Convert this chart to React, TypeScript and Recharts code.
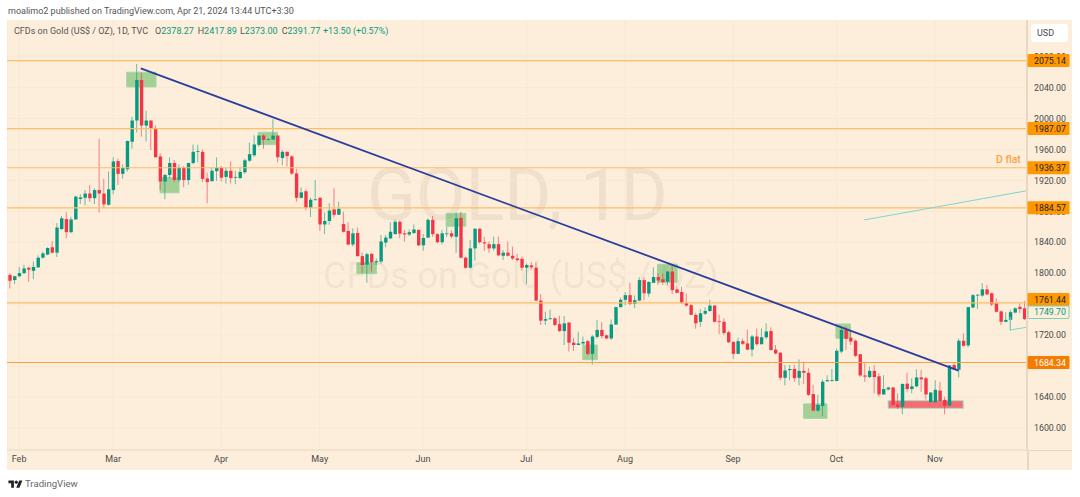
import React from 'react';
import { ComposedChart, Bar, Cell, XAxis, YAxis, CartesianGrid, ReferenceLine, ReferenceArea } from 'recharts';

const opens = [
  1797.5,1791,1796,1800,1807,1803,1807.5,1820,1824,1833.5,
  1826.5,1857,1870,1853,1869.5,1896,1897.5,1903,1897,1907.5,
  1903,1888.5,1907.5,1945,1928.5,1934.5,1970,1997.5,2050,1991,
  1997.5,1987.5,1951,1918.5,1927,1942.5,1920.5,1936.5,1920.5,1942.5,
  1957,1957,1922.5,1919,1932,1936.5,1924.5,1932.5,1923.5,1923,
  1930.5,1945.5,1952.5,1966,1978,1972.5,1973,1978,1949,1957,
  1951,1929,1897.5,1906,1884.5,1894.5,1897.5,1863,1867.5,1882.5,
  1875.5,1863.5,1854.5,1837,1852,1822,1811,1825,1814,1815,
  1839.5,1845,1850.5,1866.5,1851.5,1850,1852,1856,1836,1846,
  1869,1850.5,1840,1850.5,1851.5,1847,1871.5,1820,1807,1832,
  1857.5,1840,1837.5,1832,1837.5,1822.5,1826.5,1822.5,1819,1818.5,
  1807,1810,1807,1764.5,1738.5,1740.5,1741.5,1734,1725,1736,
  1710,1707,1709,1712,1695.5,1717.5,1726.5,1719.5,1715.5,1733.5,
  1756,1765.5,1771.5,1760,1764.5,1791,1773.5,1787.5,1795,1792,
  1789,1802,1779,1775.5,1761.5,1758.5,1746,1737,1747.5,1751,
  1758,1738,1737,1723.5,1711,1695.5,1712,1709,1701,1718,
  1708,1717,1725,1701,1697,1664.5,1674.5,1676,1664.5,1673.5,
  1671,1643.5,1622,1628,1660,1660.5,1660.5,1698.5,1726.5,1716.5,
  1712.5,1695,1667.5,1665.5,1673.5,1666.5,1643,1649.5,1652,1630,
  1627,1657,1650,1653.5,1665,1664,1633,1633,1648,1636,
  1628.5,1681,1675,1712.5,1706.5,1755.5,1771,1771,1779,1774,
  1761,1750.5,1737,1739.5,1749,1756.5,1754.5,
];
const closes = [
  1790,1796,1800,1806,1804.5,1808,1820,1825.5,1832.5,1826.5,
  1859,1871,1853,1869.5,1899,1898,1903,1897,1907.5,1903,
  1889,1908.5,1944.5,1928.5,1936,1971,1997.5,2050,1991,1997.5,
  1987.5,1950,1918.5,1927,1942.5,1920.5,1936.5,1920.5,1942.5,1957,
  1958,1922,1918,1932.5,1936.5,1923.5,1932.5,1923,1924.5,1931,
  1946,1954,1966.5,1978,1972.5,1973.5,1978,1950,1957,1951.5,
  1929,1897.5,1904.5,1884.5,1895,1895.5,1863,1867.5,1881,1875.5,
  1883.5,1853.5,1837,1851.5,1822,1810.5,1824.5,1814,1815.5,1841,
  1846,1853.5,1866.5,1851,1850,1853,1856.5,1836,1845.5,1869,
  1850.5,1840,1851.5,1851.5,1847.5,1871,1820,1807,1832,1857.5,
  1840,1838.5,1832,1837.5,1823,1826.5,1822.5,1819,1817,1807,
  1810.5,1807.5,1764.5,1738.5,1740.5,1741.5,1733,1725,1735,1710,
  1707,1709,1711,1695.5,1718,1726.5,1718.5,1715.5,1733.5,1756,
  1765.5,1771.5,1760,1765,1791,1774,1788.5,1795,1790.5,1788.5,
  1802,1778,1774.5,1761.5,1758,1746,1735,1748,1751,1758,
  1737,1737,1722.5,1710.5,1695.5,1712,1708.5,1701,1718,1708,
  1717,1724.5,1700.5,1696,1664.5,1674,1676,1664,1673.5,1671,
  1642.5,1622,1629.5,1659.5,1661.5,1661.5,1699.5,1726.5,1715,1711.5,
  1693,1667.5,1666,1673.5,1665.5,1643,1650,1652,1629.5,1627,
  1656.5,1650,1653.5,1665,1662.5,1643,1645.5,1649,1634.5,1628.5,
  1680.5,1675.5,1712.5,1706,1756,1771.5,1772,1779,1772.5,1759.5,
  1750,1737,1739.5,1749.5,1754.5,1753.5,1740.5,
];
const highs = [
  1800,1796.5,1808,1811,1808,1815,1823,1828,1833.5,1841.5,
  1865,1874,1879,1873,1900.5,1902,1907.5,1914,1910,1974,
  1922,1931.5,1950,1948.5,1940.5,1971.5,2002.5,2070.5,2059.5,2010,
  1998,1991,1955,1929,1949.5,1946.5,1941,1938.5,1943,1966.5,
  1966,1960,1930,1937.5,1949.5,1938.5,1936.5,1944.5,1932.5,1937,
  1948,1969,1978.5,1978.5,1980,1974.5,1999,1979,1959.5,1957.5,
  1953,1935,1911,1908.5,1898,1920.5,1898,1878.5,1890.5,1910,
  1892.5,1879.5,1866,1858,1859,1826.5,1826.5,1825.5,1819,1849.5,
  1849.5,1866,1869.5,1868,1856,1856.5,1863,1856,1850.5,1871,
  1874,1851.5,1856,1860,1855.5,1878.5,1879,1821.5,1843,1858,
  1858,1847,1841,1847.5,1847,1830,1841,1834.5,1825,1821.5,
  1812.5,1814,1813.5,1773,1750,1752.5,1743,1745,1744.5,1736.5,
  1716.5,1724,1718,1713.5,1720,1739.5,1736.5,1721,1740,1756.5,
  1768,1775.5,1787.5,1771,1794.5,1794.5,1789.5,1807.5,1799.5,1799.5,
  1803,1811.5,1782.5,1782.5,1774,1760,1748,1753.5,1755.5,1765.5,
  1758.5,1746,1741.5,1725.5,1711.5,1716.5,1715,1727,1720,1728.5,
  1728.5,1735,1730,1707,1698,1681,1681,1681,1688.5,1685.5,
  1677,1655.5,1642.5,1662.5,1668,1676,1702,1731,1731,1726.5,
  1714.5,1695.5,1683.5,1679,1681,1670.5,1668,1653,1653,1644.5,
  1657.5,1671,1664,1675.5,1674.5,1666,1646,1661.5,1659.5,1640,
  1681,1683.5,1715.5,1722,1756.5,1773,1773,1787,1784.5,1775,
  1767.5,1751.5,1749.5,1752.5,1756,1761,1764,
];
const lows = [
  1780,1786,1795,1799,1789,1792,1806.5,1819,1823,1825.5,
  1821,1856,1845,1851.5,1869,1889.5,1887.5,1892.5,1889.5,1878,
  1884,1887.5,1902,1914,1922,1931.5,1961,1982,1976.5,1970.5,
  1959.5,1949.5,1907.5,1895.5,1922.5,1917.5,1918,1911,1914.5,1941,
  1943.5,1917.5,1890.5,1918.5,1919.5,1918.5,1916,1916,1915,1922,
  1928.5,1944,1950.5,1963.5,1961,1971.5,1972.5,1943.5,1939.5,1938,
  1927,1892.5,1896.5,1881.5,1872.5,1894,1855,1850.5,1862.5,1872,
  1875.5,1852.5,1836,1834.5,1821.5,1800,1787.5,1802,1810.5,1812,
  1833.5,1844,1850,1845,1841,1848,1850.5,1835,1829,1845,
  1847,1838.5,1837.5,1847,1845,1826.5,1819,1805.5,1806,1816,
  1838.5,1829,1826.5,1829,1822,1817,1821.5,1817,1815,1803,
  1785.5,1805,1764,1733,1733,1739.5,1731.5,1724,1707,1698.5,
  1699.5,1707,1707,1693.5,1681.5,1715.5,1715.5,1714.5,1713.5,1733,
  1755.5,1758.5,1758.5,1754.5,1763.5,1765,1769.5,1787,1784.5,1784.5,
  1784.5,1773,1774,1760,1756.5,1746,1728,1730.5,1746,1750,
  1736.5,1721,1720,1710,1689,1695.5,1707,1700.5,1692,1706.5,
  1707.5,1714.5,1699.5,1695,1661,1654.5,1661.5,1659.5,1654.5,1656.5,
  1641,1621,1621,1615,1659.5,1659.5,1660,1696,1700.5,1707,
  1691,1666,1659.5,1664,1644.5,1640,1642.5,1648,1628,1624,
  1617.5,1646.5,1644.5,1652,1646.5,1636.5,1632.5,1632,1633.5,1617.5,
  1628,1674.5,1665,1705,1704,1754.5,1753.5,1769.5,1771.5,1757.5,
  1749,1733,1736.5,1725.5,1748,1748,1739.5,
];

const priceTicks = [1600, 1640, 1680, 1720, 1760, 1800, 1840, 1880, 1920, 1960, 2000, 2040, 2080];
const levels = [2075.14, 1987.07, 1936.37, 1884.57, 1761.44, 1684.34];
const lastPrice = 1749.7;
const monthIndex = [2, 22, 45, 66, 88, 110, 131, 154, 176, 197];
const monthNames = ['Feb', 'Mar', 'Apr', 'May', 'Jun', 'Jul', 'Aug', 'Sep', 'Oct', 'Nov'];

// [from, to, top price, bottom price]
const greenBoxes = [
  [24.9, 31.15, 2060, 2041],
  [32, 36.05, 1923.5, 1904],
  [52.9, 57, 1982.3, 1966.3],
  [73.9, 78.1, 1813.6, 1799.3],
  [92.9, 97.1, 1877.4, 1860.6],
  [122, 125.1, 1707, 1688],
  [137.9, 142.1, 1811.4, 1788],
  [169, 174, 1630.7, 1612.1],
  [175.9, 179, 1734.2, 1715.7],
];
const redBox = [187, 203, 1635, 1625];
const trendLine = [[27.9, 2065], [202, 1673.8]];
const tealLine = [[181.9, 1868.8], [216.57, 1906.7]];
const tealHook = [[213, 1743.3], [213, 1726.4], [216.57, 1730]];

const candles = opens.map((open, i) => ({
  i,
  open,
  close: closes[i],
  wick: [lows[i], highs[i]],
  body: [Math.min(open, closes[i]), Math.max(open, closes[i])],
}));

const UP = '#089981';
const DOWN = '#f23645';
const BG = '#fdeedb';
const FONT = 'Roboto, sans-serif';
const BORDER = '#e8d8c0';
const xDomain = [-0.575, 216.575];

const candleColor = (d: { open: number; close: number }) => (d.close >= d.open ? UP : DOWN);

function PriceTick({ x, y, payload }: any) {
  const v = payload.value;
  const text = v.toFixed(2);
  if (v === lastPrice) {
    return (
      <g>
        <rect x={x + 1} y={y - 6} width={41} height={12.5} fill={BG} stroke="#7fcdbb" rx={1} />
        <text x={x + 7} y={y + 3.2} fontSize={8.8} fontFamily={FONT} fill={UP}>{text}</text>
      </g>
    );
  }
  if (levels.includes(v)) {
    const strong = v === 1684.34;
    // the 1761.44 tag sits a little higher so it clears the last price tag
    const top = v === 1761.44 ? y - 10 : y - 6.5;
    return (
      <g>
        <rect x={x + 0.5} y={top} width={42} height={13} fill={strong ? '#f57c00' : '#ff9800'} rx={1} />
        <text x={x + 7} y={top + 9.7} fontSize={8.8} fontFamily={FONT} fill={strong ? '#fff' : '#222'}>{text}</text>
      </g>
    );
  }
  return <text x={x + 7} y={y + 3.2} fontSize={8.8} fontFamily={FONT} fill="#4a4a4a">{text}</text>;
}

const abs = (left: number, top: number, extra: React.CSSProperties = {}): React.CSSProperties => ({
  position: 'absolute',
  left,
  top,
  whiteSpace: 'nowrap',
  fontFamily: FONT,
  ...extra,
});

const legendValues = [
  ['O', '2378.27', 155],
  ['H', '2417.89', 197.7],
  ['L', '2373.00', 240],
  ['C', '2391.77', 281.7],
];

export default function App() {
  return (
    <div style={{ position: 'fixed', left: 0, top: 0, width: 1080, height: 497, background: '#fff', overflow: 'hidden' }}>
      <div style={abs(8, 6, { fontSize: 9, color: '#555' })}>
        moalimo2 published on TradingView.com, Apr 21, 2024 13:44 UTC+3:30
      </div>

      <div style={{ position: 'absolute', left: 7, top: 20, width: 1065, height: 450, background: BG }} />
      <div style={abs(367, 153, { fontSize: 72, color: 'rgba(90,70,40,0.085)' })}>GOLD, 1D</div>
      <div style={abs(323, 255, { fontSize: 36, color: 'rgba(90,70,40,0.085)' })}>CFDs on Gold (US$ / OZ)</div>

      <div style={{ position: 'absolute', left: 7, top: 20 }}>
        <ComposedChart
          width={1066}
          height={451}
          data={candles}
          margin={{ top: 0, right: 0, bottom: 0, left: 0 }}
        >
          <CartesianGrid stroke="#f7e8d3" horizontalValues={priceTicks} />
          <XAxis
            dataKey="i"
            type="number"
            domain={xDomain}
            allowDataOverflow
            ticks={monthIndex}
            interval={0}
            height={21}
            tickSize={0}
            tickMargin={6}
            tickFormatter={(v: number) => monthNames[monthIndex.indexOf(v)]}
            tick={{ fontSize: 9, fontFamily: FONT, fill: '#4a4a4a' }}
            axisLine={{ stroke: BORDER }}
          />
          <XAxis xAxisId="wicks" dataKey="i" type="number" domain={xDomain} allowDataOverflow hide />
          <YAxis
            orientation="right"
            domain={[1571.1, 2127.6]}
            allowDataOverflow
            ticks={[...priceTicks, ...levels, lastPrice]}
            interval={0}
            width={46}
            tickSize={0}
            tickMargin={0}
            tick={<PriceTick />}
            axisLine={{ stroke: BORDER, strokeWidth: 2 }}
          />

          {levels.map((v) => (
            <ReferenceLine key={v} y={v} stroke={v === 1684.34 ? '#ffa040' : '#ffbd66'} strokeWidth={v === 1684.34 ? 1 : 1.2} />
          ))}
          <Bar xAxisId="wicks" dataKey="wick" barSize={1} isAnimationActive={false}>
            {candles.map((d) => (
              <Cell key={d.i} fill={candleColor(d)} fillOpacity={0.6} />
            ))}
          </Bar>
          <Bar dataKey="body" barSize={3.4} isAnimationActive={false}>
            {candles.map((d) => (
              <Cell key={d.i} fill={candleColor(d)} />
            ))}
          </Bar>
          {greenBoxes.map(([x1, x2, y1, y2]) => (
            <ReferenceArea
              key={x1}
              x1={x1}
              x2={x2}
              y1={y1}
              y2={y2}
              fill="#4caf50"
              fillOpacity={0.5}
              stroke="#a5d6a7"
              strokeWidth={1}
            />
          ))}
          <ReferenceArea
            x1={redBox[0]}
            x2={redBox[1]}
            y1={redBox[2]}
            y2={redBox[3]}
            fill="#f23645"
            fillOpacity={0.7}
            stroke="#a8dcc8"
            strokeWidth={1}
          />
          <ReferenceLine
            segment={[{ x: trendLine[0][0], y: trendLine[0][1] }, { x: trendLine[1][0], y: trendLine[1][1] }]}
            stroke="#2a3f9d"
            strokeWidth={1.8}
          />
          <ReferenceLine
            segment={[{ x: tealLine[0][0], y: tealLine[0][1] }, { x: tealLine[1][0], y: tealLine[1][1] }]}
            stroke="#7ed4cf"
            strokeWidth={1}
          />
          <ReferenceLine
            segment={[{ x: tealHook[0][0], y: tealHook[0][1] }, { x: tealHook[1][0], y: tealHook[1][1] }]}
            stroke="#7ed4cf"
            strokeWidth={1}
          />
          <ReferenceLine
            segment={[{ x: tealHook[1][0], y: tealHook[1][1] }, { x: tealHook[2][0], y: tealHook[2][1] }]}
            stroke="#7ed4cf"
            strokeWidth={1}
          />
        </ComposedChart>
      </div>

      {/* axis borders run on past the corner of the plot */}
      <div style={{ position: 'absolute', left: 1028, top: 450, width: 44, height: 1, background: BORDER }} />
      <div style={{ position: 'absolute', left: 1027, top: 450, width: 2, height: 20, background: BORDER }} />

      <div style={abs(14, 26, { fontSize: 9, color: '#555' })}>CFDs on Gold (US$ / OZ), 1D, TVC</div>
      {legendValues.map(([k, v, left]) => (
        <div key={k as string} style={abs(left as number, 26, { fontSize: 9, color: '#555' })}>
          {k}
          <span style={{ color: UP }}>{v}</span>
        </div>
      ))}
      <div style={abs(323, 26, { fontSize: 9, color: UP })}>+13.50 (+0.57%)</div>

      <div style={abs(996, 153, { fontSize: 10.5, fontWeight: 500, color: '#ffa040' })}>D flat</div>

      <div
        style={abs(1031, 24, {
          width: 37,
          height: 18,
          lineHeight: '18px',
          background: '#fff',
          borderRadius: 3,
          fontSize: 9,
          color: '#4a4a4a',
          textIndent: 6,
        })}
      >
        USD
      </div>

      <svg style={{ position: 'absolute', left: 8, top: 479 }} width={15} height={11} viewBox="0 0 36 28">
        <path d="M14 22H7V11H0V4h14v18zM28 22h-8l7.5-18h8L28 22z" fill="#222" />
        <circle cx={20} cy={8} r={4} fill="#222" />
      </svg>
      <div style={abs(25, 478, { fontSize: 9.6, color: '#666' })}>TradingView</div>
    </div>
  );
}
